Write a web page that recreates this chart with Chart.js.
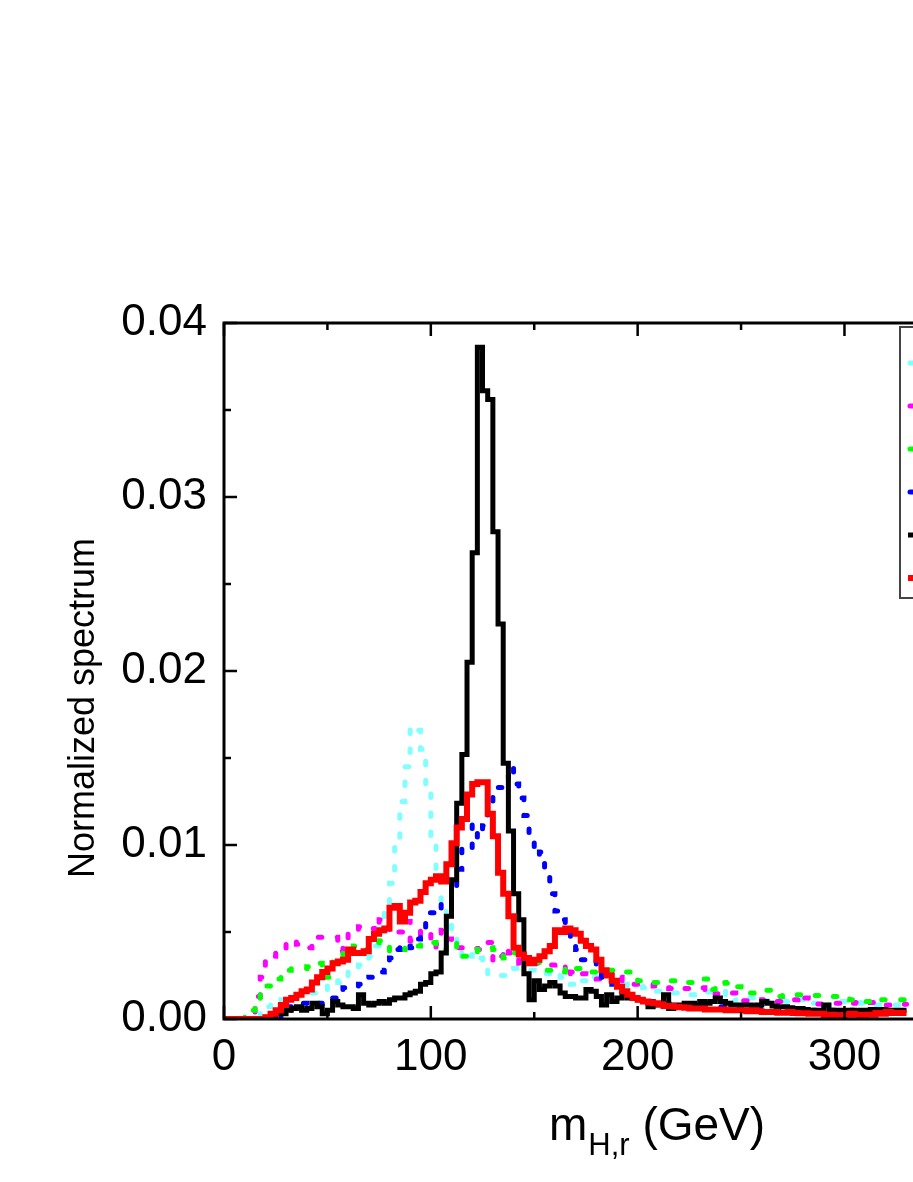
<!DOCTYPE html>
<html>
<head>
<meta charset="utf-8">
<script src="https://cdn.jsdelivr.net/npm/chart.js@4.4.1/dist/chart.umd.min.js"></script>
<style>
  html, body { margin: 0; padding: 0; background: #fff; overflow: hidden; }
  #wrap { width: 1100px; height: 1182px; }
</style>
</head>
<body>
<div id="wrap"><canvas id="Chart" width="1100" height="1182"></canvas></div>
<script>
// histogram bins, 2.5 GeV wide, starting at 0 GeV
const BIN_WIDTH = 2.5;
const xTicks = [0, 100, 200, 300, 400];
const yTicks = [0, 0.01, 0.02, 0.03, 0.04];

// normalized spectra, in units of 1e-3 (one value per bin, 25 GeV per row)
const cyanSpec = [
  0, 0, 0, 0, 0, 0, 0.1, 0.5, 0.7, 0.9,
  1.0, 1.1, 1.2, 1.3, 1.3, 1.4, 1.4, 1.5, 1.5, 1.6,
  2.0, 2.2, 2.1, 2.4, 2.7, 2.9, 3.1, 3.3, 3.6, 4.2,
  5.0, 6.5, 7.8, 10.3, 12.5, 14.5, 16.8, 16.6, 15.5, 13.0,
  10.0, 8.0, 6.6, 5.5, 4.8, 4.2, 3.4, 3.6, 3.8, 3.5,
  3.0, 2.5, 2.5, 2.5, 2.5, 2.7, 2.9, 2.9, 2.9, 2.8,
  2.7, 2.7, 2.6, 2.5, 2.6, 2.4, 2.2, 2.0, 1.9, 2.2,
  2.5, 2.4, 2.3, 2.3, 2.2, 2.2, 2.1, 2.0, 1.9, 1.9,
  1.85, 1.8, 1.7, 1.6, 1.6, 1.55, 1.5, 1.5, 1.5, 1.45,
  1.4, 1.45, 1.5, 1.55, 1.6, 1.6, 1.6, 1.3, 1.0, 1.1,
  1.2, 1.2, 1.2, 1.1, 1.05, 1.0, 1.0, 1.0, 1.0, 1.0,
  1.0, 1.1, 1.2, 1.2, 0.9, 0.67, 0.8, 1.0, 1.0, 1.0,
  1.0, 1.0, 0.95, 0.9, 0.9, 0.85, 0.8, 0.8, 0.8, 0.8,
  0.8, 0.8
];
const magentaSpec = [
  0, 0, 0, 0, 0, 0.4, 1.3, 2.4, 3.3, 3.6,
  3.8, 4.0, 4.5, 4.5, 4.3, 4.2, 4.1, 4.5, 4.7, 4.7,
  4.7, 4.7, 3.9, 4.6, 4.9, 5.0, 5.3, 5.2, 5.2, 5.0,
  5.7, 5.3, 4.9, 5.0, 5.0, 5.6, 4.5, 4.6, 5.1, 5.0,
  4.1, 4.3, 5.1, 4.6, 4.3, 4.1, 4.1, 4.1, 4.05, 4.0,
  4.0, 4.4, 3.3, 3.6, 4.1, 3.8, 3.5, 3.2, 3.2, 3.2,
  3.2, 3.2, 3.2, 3.1, 3.2, 3.1, 2.4, 2.7, 2.5, 2.6,
  2.4, 2.4, 2.3, 2.5, 2.7, 2.6, 2.4, 2.0, 2.0, 2.0,
  2.0, 2.0, 2.0, 1.9, 1.85, 1.8, 1.75, 1.7, 1.75, 1.75,
  1.75, 1.8, 1.8, 1.4, 1.4, 1.45, 1.5, 1.5, 1.5, 1.2,
  1.05, 1.05, 1.0, 1.0, 1.1, 1.1, 1.05, 1.0, 1.0, 1.0,
  1.1, 1.4, 1.2, 0.9, 0.86, 0.86, 0.86, 0.86, 0.9, 0.9,
  0.85, 0.9, 0.95, 1.0, 1.0, 0.95, 0.9, 0.85, 0.8, 0.85,
  0.85, 0.85
];
const greenSpec = [
  0, 0, 0, 0, 0.2, 0.5, 1.05, 1.4, 1.9, 2.1,
  2.3, 2.5, 2.8, 2.9, 2.9, 2.9, 3.0, 3.1, 3.2, 3.0,
  2.4, 3.4, 3.5, 3.8, 4.1, 4.2, 4.0, 4.0, 4.2, 4.4,
  4.5, 4.5, 3.9, 4.0, 4.0, 4.1, 4.1, 4.2, 4.3, 4.4,
  4.4, 4.2, 4.0, 4.2, 4.4, 4.0, 3.6, 3.8, 3.8, 4.0,
  4.05, 4.1, 4.0, 3.7, 3.5, 3.6, 3.8, 3.5, 3.3, 3.2,
  3.4, 3.0, 2.8, 2.8, 2.7, 2.7, 3.0, 3.0, 2.9, 2.8,
  2.75, 2.7, 2.7, 2.7, 2.8, 2.8, 2.7, 2.7, 2.7, 2.3,
  2.2, 2.1, 2.1, 2.1, 2.1, 2.2, 2.2, 2.2, 2.1, 2.1,
  2.1, 2.2, 2.3, 2.3, 1.7, 2.0, 2.1, 2.05, 1.8, 1.85,
  1.8, 1.5, 1.5, 1.6, 1.65, 1.65, 1.3, 1.3, 1.4, 1.4,
  1.4, 1.4, 1.4, 1.35, 1.35, 1.35, 1.3, 1.3, 1.3, 1.25,
  1.2, 1.1, 1.1, 1.0, 1.0, 1.15, 1.15, 1.1, 1.1, 1.1,
  1.1, 1.1
];
const blueSpec = [
  0, 0, 0, 0, 0, 0, 0, 0, 0, 0,
  0, 0.2, 0.4, 0.7, 0.9, 0.9, 0.8, 0.8, 0.9, 1.0,
  1.0, 1.2, 1.5, 1.8, 1.8, 1.9, 2.0, 2.1, 2.4, 2.5,
  2.7, 2.8, 3.5, 4.0, 4.3, 4.2, 4.1, 4.6, 5.1, 6.1,
  6.1, 6.0, 6.8, 6.8, 7.5, 8.6, 9.9, 9.8, 11.2, 10.4,
  11.1, 12.0, 12.8, 13.3, 13.6, 14.5, 13.5, 12.7, 11.7, 10.4,
  9.4, 9.6, 8.5, 7.2, 6.2, 5.7, 5.3, 4.4, 4.0, 3.4,
  3.5, 3.5, 2.6, 2.4, 2.3, 2.0, 1.8, 1.5, 1.3, 1.2,
  1.1, 1.0, 1.0, 0.95, 0.9, 0.9, 0.85, 0.85, 0.8, 0.8,
  0.8, 0.75, 0.7, 0.7, 0.7, 0.7, 0.7, 0.7, 0.65, 0.65,
  0.6, 0.6, 0.6, 0.6, 0.6, 0.6, 0.6, 0.55, 0.55, 0.55,
  0.55, 0.55, 0.55, 0.5, 0.5, 0.5, 0.5, 0.5, 0.5, 0.5,
  0.5, 0.5, 0.45, 0.45, 0.45, 0.45, 0.45, 0.45, 0.45, 0.45,
  0.45, 0.45
];
const blackSpec = [
  0, 0, 0, 0, 0, 0, 0, 0, 0.1, 0.2,
  0.4, 0.3, 0.5, 0.6, 0.7, 0.5, 0.6, 0.9, 0.7, 0.3,
  0.5, 1.0, 0.8, 0.7, 0.7, 0.6, 1.4, 0.9, 0.8, 0.9,
  1.0, 0.9, 1.1, 1.2, 1.2, 1.4, 1.5, 1.6, 2.0, 2.1,
  2.6, 2.7, 3.8, 5.9, 8.0, 12.4, 15.2, 20.5, 26.8, 38.6,
  36.1, 35.6, 28.0, 22.7, 14.7, 10.8, 7.2, 5.7, 2.6, 1.1,
  2.2, 1.7, 1.9, 2.1, 1.9, 1.5, 1.3, 1.3, 1.2, 1.2,
  1.7, 1.6, 1.3, 0.8, 1.4, 1.0, 1.2, 1.5, 1.2, 1.2,
  1.1, 1.0, 0.7, 0.8, 0.8, 1.4, 0.6, 0.8, 0.8, 0.9,
  0.9, 0.8, 1.0, 0.9, 1.0, 1.2, 1.0, 0.9, 0.8, 0.8,
  0.8, 0.8, 0.7, 0.8, 1.0, 0.9, 0.75, 0.7, 0.7, 0.65,
  0.6, 0.6, 0.55, 0.5, 0.5, 0.5, 0.8, 0.15, 0.5, 0.5,
  0.5, 0.5, 0.45, 0.5, 0.5, 0.55, 0.5, 0.55, 0.5, 0.5,
  0.5, 0.5
];
const redSpec = [
  0, 0, 0, 0, 0, 0, 0, 0, 0.1, 0.3,
  0.5, 0.8, 1.1, 1.2, 1.4, 1.6, 1.7, 2.1, 2.4, 2.7,
  2.9, 3.2, 3.3, 3.4, 4.0, 3.8, 3.8, 3.9, 4.6, 4.9,
  5.1, 5.2, 6.4, 6.5, 5.6, 6.1, 6.7, 6.8, 7.3, 7.8,
  8.0, 8.2, 7.9, 8.9, 10.1, 11.0, 11.5, 12.9, 13.5, 13.6,
  13.6, 11.8, 10.5, 8.4, 7.2, 5.9, 4.1, 3.7, 3.5, 3.2,
  3.4, 3.6, 3.9, 4.2, 5.1, 5.0, 5.2, 5.1, 4.9, 4.5,
  4.2, 4.0, 3.4, 2.8, 2.5, 2.2, 1.85, 1.6, 1.4, 1.2,
  1.1, 1.0, 0.95, 0.9, 0.85, 0.75, 0.75, 0.7, 0.67, 0.65,
  0.6, 0.6, 0.6, 0.55, 0.55, 0.55, 0.55, 0.5, 0.5, 0.5,
  0.5, 0.45, 0.5, 0.45, 0.4, 0.4, 0.4, 0.36, 0.36, 0.4,
  0.35, 0.33, 0.33, 0.3, 0.3, 0.3, 0.2, 0.25, 0.17, 0.2,
  0.25, 0.3, 0.25, 0.2, 0.25, 0.25, 0.35, 0.3, 0.4, 0.35,
  0.35, 0.35
];

// step histogram points: left edge of each bin, plus closing right edge
function toSteps(values) {
  const pts = values.map((v, i) => ({ x: i * BIN_WIDTH, y: v / 1000 }));
  pts.push({ x: values.length * BIN_WIDTH, y: values[values.length - 1] / 1000 });
  return pts;
}

const dotted = { borderWidth: 5, borderDash: [3.5, 15.5], borderCapStyle: "round" };

// drawn top to bottom: red over black over dotted ones
const series = [
  { key: "red", data: redSpec, color: "#ff0000", style: { borderWidth: 6 } },
  { key: "black", data: blackSpec, color: "#000000", style: { borderWidth: 5 } },
  { key: "blue", data: blueSpec, color: "#0000ff", style: dotted },
  { key: "green", data: greenSpec, color: "#00ff00", style: dotted },
  { key: "magenta", data: magentaSpec, color: "#ff00ff", style: dotted },
  { key: "cyan", data: cyanSpec, color: "#80ffff", style: dotted },
];
const legendOrder = ["cyan", "magenta", "green", "blue", "black", "red"];

const FONT = "'Liberation Sans', Arial, Helvetica, sans-serif";
Chart.defaults.font.family = FONT;
Chart.defaults.color = "#000";

const frame = {
  id: "frame",
  afterDatasetsDraw(chart) {
    const { ctx, chartArea: a, scales } = chart;
    const xs = scales.x, ys = scales.y;
    ctx.save();
    ctx.strokeStyle = "#000";
    ctx.lineWidth = 3;
    ctx.lineCap = "butt";
    ctx.strokeRect(a.left, a.top, a.right - a.left, a.bottom - a.top);

    // inward ticks, major and minor
    ctx.lineWidth = 2.5;
    ctx.beginPath();
    for (let v = 0; v <= 400; v += 50) {
      const px = xs.getPixelForValue(v);
      const len = v % 100 === 0 ? 13 : 7;
      ctx.moveTo(px, a.bottom); ctx.lineTo(px, a.bottom - len);
      ctx.moveTo(px, a.top); ctx.lineTo(px, a.top + len);
    }
    for (let k = 0; k <= 8; k++) {
      const py = ys.getPixelForValue(k * 0.005);
      const len = k % 2 === 0 ? 13 : 7;
      ctx.moveTo(a.left, py); ctx.lineTo(a.left + len, py);
      ctx.moveTo(a.right, py); ctx.lineTo(a.right - len, py);
    }
    ctx.stroke();

    // legend box (mostly outside the visible page)
    const lx = 900, ly = 327, lw = 320, lh = 271;
    ctx.fillStyle = "#fff";
    ctx.fillRect(lx, ly, lw, lh);
    ctx.strokeStyle = "#444";
    ctx.lineWidth = 2;
    ctx.strokeRect(lx, ly, lw, lh);
    legendOrder.forEach((key, i) => {
      const s = series.find((d) => d.key === key);
      const y = 363 + i * 43;
      ctx.beginPath();
      ctx.strokeStyle = s.color;
      ctx.lineWidth = s.style.borderWidth;
      ctx.setLineDash(s.style.borderDash || []);
      ctx.lineCap = s.style.borderCapStyle || "butt";
      ctx.moveTo(s.style.borderDash ? 910 : 908, y);
      ctx.lineTo(968, y);
      ctx.stroke();
    });
    ctx.setLineDash([]);

    // axis titles
    ctx.fillStyle = "#000";
    ctx.textBaseline = "alphabetic";
    ctx.textAlign = "left";
    let x = 549;
    const base = 1140;
    ctx.font = "46px " + FONT;
    ctx.fillText("m", x, base);
    x += ctx.measureText("m").width;
    ctx.font = "31px " + FONT;
    ctx.fillText("H,r", x + 1, base + 15);
    x += ctx.measureText("H,r").width + 1;
    ctx.font = "46px " + FONT;
    ctx.fillText(" (GeV)", x, base);

    ctx.translate(84, 708);
    ctx.rotate(-Math.PI / 2);
    ctx.textAlign = "center";
    ctx.textBaseline = "middle";
    ctx.font = "36px " + FONT;
    ctx.fillText("Normalized spectrum", 0, 0);
    ctx.restore();
  },
};

new Chart(document.getElementById("Chart"), {
  type: "line",
  data: {
    datasets: series.map((s) => ({
      label: s.key,
      data: toSteps(s.data),
      borderColor: s.color,
      backgroundColor: s.color,
      stepped: true,
      pointRadius: 0,
      fill: false,
      ...s.style,
    })),
  },
  options: {
    responsive: false,
    animation: false,
    events: [],
    layout: { padding: { top: 323, right: 20, bottom: 0, left: 0 } },
    plugins: { legend: { display: false }, tooltip: { enabled: false } },
    scales: {
      x: {
        type: "linear",
        min: 0,
        max: 400,
        afterFit: (s) => { s.height = 163; },
        afterBuildTicks: (s) => { s.ticks = xTicks.map((v) => ({ value: v })); },
        ticks: { font: { size: 44 }, color: "#000", padding: 12, maxRotation: 0 },
        grid: { display: false, drawTicks: false },
        border: { display: false },
      },
      y: {
        min: 0,
        max: 0.04,
        afterFit: (s) => { s.width = 224; },
        afterBuildTicks: (s) => { s.ticks = yTicks.map((v) => ({ value: v })); },
        ticks: { font: { size: 44 }, color: "#000", padding: 17, callback: (v) => v.toFixed(2) },
        grid: { display: false, drawTicks: false },
        border: { display: false },
      },
    },
  },
  plugins: [frame],
});
</script>
</body>
</html>
